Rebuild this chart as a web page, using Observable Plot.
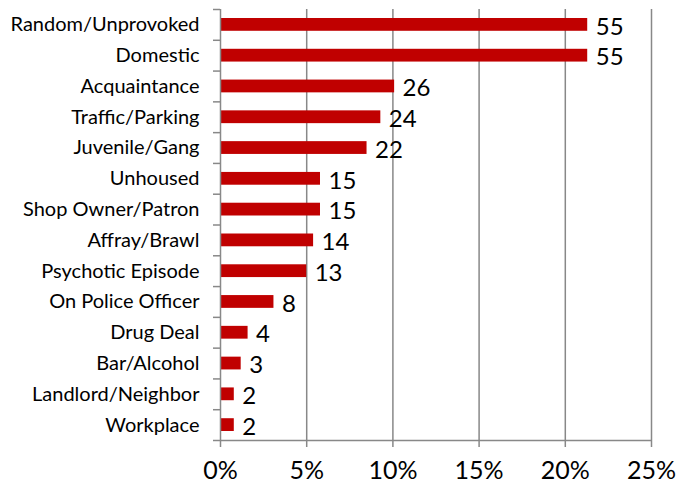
<!DOCTYPE html>
<html>
<head>
<meta charset="utf-8">
<script src="https://cdn.jsdelivr.net/npm/d3@7"></script>
<script src="https://cdn.jsdelivr.net/npm/@observablehq/plot@0.6"></script>
<style>
  html, body { margin: 0; padding: 0; background: #fff; }
  #chart svg { display: block; }
</style>
</head>
<body>
<div id="chart"></div>
<script>
const categories = ["Random/Unprovoked", "Domestic", "Acquaintance", "Traffic/Parking", "Juvenile/Gang", "Unhoused", "Shop Owner/Patron", "Affray/Brawl", "Psychotic Episode", "On Police Officer", "Drug Deal", "Bar/Alcohol", "Landlord/Neighbor", "Workplace"];
const counts = [55, 55, 26, 24, 22, 15, 15, 14, 13, 8, 4, 3, 2, 2];
const percents = [21.3, 21.3, 10.1, 9.3, 8.5, 5.8, 5.8, 5.4, 5.0, 3.1, 1.6, 1.2, 0.8, 0.8];
const xTicks = [0, 5, 10, 15, 20, 25];

const data = categories.map((c, i) => ({cat: c, i, count: counts[i], pct: percents[i]}));
const bounds = d3.range(categories.length + 1);
const grid = "#888888";
const font = "Lato, 'Open Sans', sans-serif";

const chart = Plot.plot({
  width: 676,
  height: 487,
  marginLeft: 220,
  marginRight: 25,
  marginTop: 9,
  marginBottom: 47,
  style: {fontFamily: font, background: "#fff", color: "#000"},
  x: {domain: [0, 25]},
  y: {domain: [categories.length, 0]},
  marks: [
    Plot.ruleX(xTicks.slice(1), {stroke: grid, strokeWidth: 1.5}),
    Plot.rectX(data, {x1: 0, x2: "pct", y1: "i", y2: d => d.i + 1, insetTop: 9, insetBottom: 9, fill: "#C00000"}),
    Plot.ruleX([0], {stroke: grid, strokeWidth: 1.5}),
    Plot.ruleY([categories.length], {stroke: grid, strokeWidth: 1.5}),
    Plot.axisX({ticks: xTicks, tickFormat: d => d + "%", tickSize: 7, tickPadding: 14, stroke: grid, strokeWidth: 1.5, fontSize: 25, fill: "#000", label: null}),
    Plot.axisY({ticks: bounds, tickFormat: () => "", tickSize: 7, stroke: grid, strokeWidth: 1.5, label: null}),
    Plot.axisY({ticks: data.map(d => d.i + 0.5), tickFormat: v => categories[Math.floor(v)], tickSize: 0, tickPadding: 21, fontSize: 20, fill: "#000", label: null}),
    Plot.text(data, {x: "pct", y: d => d.i + 0.5, text: d => String(d.count), textAnchor: "start", dx: 8, dy: 2, fontSize: 24, fill: "#000"})
  ]
});
document.getElementById("chart").append(chart);
</script>
</body>
</html>
